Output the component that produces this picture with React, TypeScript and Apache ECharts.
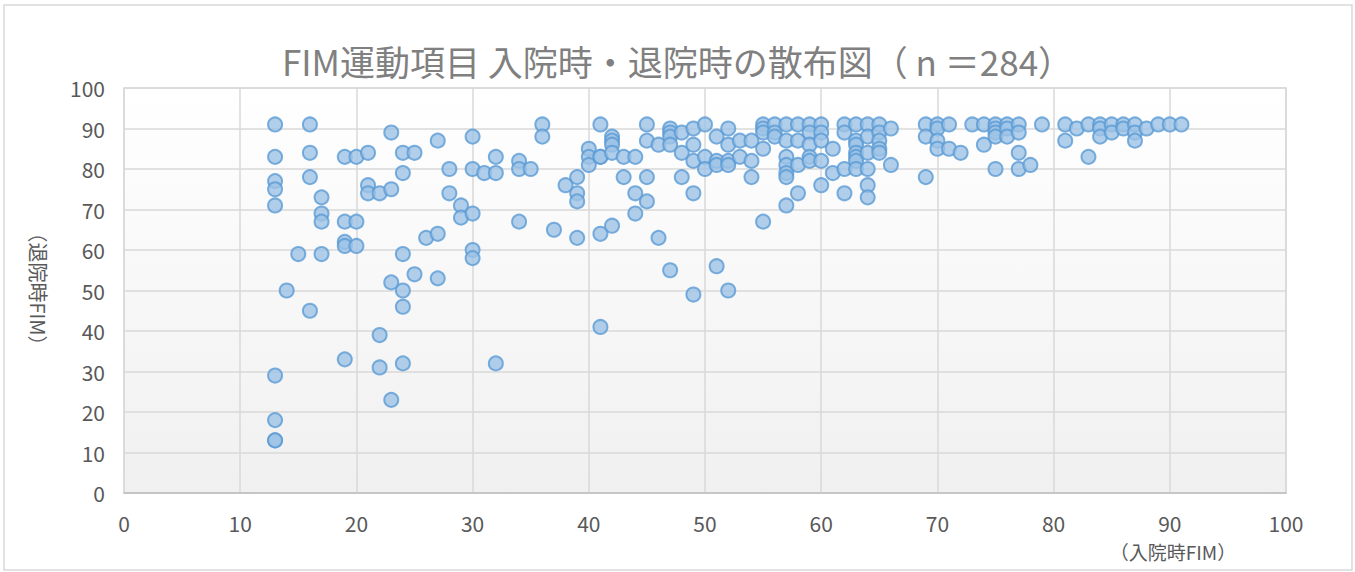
import React, { useEffect, useRef } from "react";
import * as echarts from "echarts";

const titleText = "FIM運動項目 入院時・退院時の散布図（ n ＝284）";
const xAxisName = "（入院時FIM）";
const yAxisName = "（退院時FIM）";

// admission FIM (x) -> list of discharge FIM (y)
const admissionFIM: number[] = [
  13, 14, 15, 16, 17, 19, 20, 21, 22, 23, 24, 25, 26, 27, 28, 29, 30, 31, 32, 34, 35, 36, 37, 38, 39, 40,
  41, 42, 43, 44, 45, 46, 47, 48, 49, 50, 51, 52, 53, 54, 55, 56, 57, 58, 59, 60, 61, 62, 63, 64, 65, 66,
  69, 70, 71, 72, 73, 74, 75, 76, 77, 78, 79, 81, 82, 83, 84, 85, 86, 87, 88, 89, 90, 91,
];
const dischargeFIM: number[][] = [
  [91, 83, 77, 75, 71, 29, 18, 13, 13],
  [50],
  [59],
  [91, 84, 78, 45],
  [73, 69, 67, 59],
  [83, 67, 62, 61, 33],
  [83, 67, 61],
  [84, 76, 74],
  [74, 39, 31],
  [89, 75, 52, 23],
  [84, 79, 59, 50, 46, 32],
  [84, 54],
  [63],
  [87, 64, 53],
  [80, 74],
  [71, 68],
  [88, 80, 69, 60, 58],
  [79],
  [83, 79, 32],
  [82, 80, 67],
  [80],
  [91, 88],
  [65],
  [76],
  [78, 74, 72, 63],
  [85, 83, 81],
  [91, 83, 83, 64, 41],
  [88, 87, 86, 84, 66],
  [83, 78],
  [83, 74, 69],
  [91, 87, 78, 72],
  [86, 63],
  [90, 89, 88, 86, 55],
  [89, 84, 78],
  [90, 86, 82, 74, 49],
  [91, 83, 80],
  [88, 82, 81, 56],
  [90, 86, 82, 81, 50],
  [87, 83],
  [87, 82, 78],
  [91, 90, 89, 85, 67],
  [91, 89, 88],
  [91, 87, 83, 81, 79, 78, 71],
  [91, 87, 81, 74],
  [91, 89, 86, 83, 82],
  [91, 89, 87, 82, 76],
  [85, 79],
  [91, 89, 80, 74],
  [91, 87, 86, 84, 83, 82, 80],
  [91, 88, 84, 80, 76, 73],
  [91, 89, 87, 85, 84],
  [90, 81],
  [91, 88, 78],
  [91, 90, 87, 85],
  [91, 85],
  [84],
  [91],
  [91, 86],
  [91, 90, 89, 88, 80],
  [91, 90, 88],
  [91, 89, 84, 80],
  [81],
  [91],
  [91, 87],
  [90],
  [91, 83],
  [91, 90, 88],
  [91, 89],
  [91, 90],
  [91, 89, 87],
  [90],
  [91],
  [91],
  [91],
];
const axisTicks: number[] = [0, 10, 20, 30, 40, 50, 60, 70, 80, 90, 100];

export default function App() {
  const ref = useRef<HTMLDivElement>(null);
  useEffect(() => {
    if (!ref.current) return;
    const chart = echarts.init(ref.current, undefined, { renderer: "svg" });
    const points: number[][] = [];
    admissionFIM.forEach((x, i) => {
      dischargeFIM[i].forEach((y) => points.push([x, y]));
    });
    const font = "'Noto Sans CJK JP', 'Noto Sans', sans-serif";
    chart.setOption({
      animation: false,
      backgroundColor: "#ffffff",
      title: {
        text: titleText,
        left: "center",
        top: 38,
        textStyle: { fontFamily: font, fontSize: 35, fontWeight: "normal", color: "#808080" },
      },
      grid: {
        left: 124,
        right: 69,
        top: 88,
        bottom: 79,
        show: true,
        borderColor: "#d9d9d9",
        borderWidth: 1.5,
        backgroundColor: new echarts.graphic.LinearGradient(0, 0, 0, 1, [
          { offset: 0, color: "#ffffff" },
          { offset: 1, color: "#f0f0f0" },
        ]),
      },
      xAxis: {
        type: "value",
        min: axisTicks[0],
        max: axisTicks[axisTicks.length - 1],
        interval: 10,
        axisLine: { show: true, lineStyle: { color: "#bfbfbf", width: 1.5 } },
        axisTick: { show: false },
        axisLabel: { margin: 19, fontFamily: font, fontSize: 21, color: "#595959" },
        splitLine: { show: true, lineStyle: { color: "#d9d9d9", width: 1.5 } },
      },
      yAxis: {
        type: "value",
        min: axisTicks[0],
        max: axisTicks[axisTicks.length - 1],
        interval: 10,
        axisLine: { show: false },
        axisTick: { show: false },
        axisLabel: { margin: 19, fontFamily: font, fontSize: 21, color: "#595959" },
        splitLine: { show: true, lineStyle: { color: "#d9d9d9", width: 1.5 } },
      },
      graphic: [
        {
          type: "rect",
          shape: { x: 4, y: 5, width: 1348, height: 565 },
          style: { fill: "none", stroke: "#d9d9d9", lineWidth: 1.5 },
          silent: true,
          z: -10,
        },
        {
          type: "text",
          x: 1173,
          y: 551,
          style: {
            text: xAxisName,
            fontFamily: font,
            fontSize: 19,
            fill: "#595959",
            align: "center",
            verticalAlign: "middle",
          },
        },
        {
          type: "text",
          x: 38,
          y: 289,
          rotation: -Math.PI / 2,
          style: {
            text: yAxisName,
            fontFamily: font,
            fontSize: 20,
            fill: "#595959",
            align: "center",
            verticalAlign: "middle",
          },
        },
      ],
      series: [
        {
          type: "scatter",
          data: points,
          symbol: "circle",
          symbolSize: 14,
          itemStyle: {
            color: "#9dc3e6",
            borderColor: "#5b9bd5",
            borderWidth: 2,
          },
        },
      ],
    });
    return () => chart.dispose();
  }, []);
  return (
    <div
      ref={ref}
      style={{ position: "fixed", left: 0, top: 0, width: 1355, height: 572 }}
    />
  );
}
